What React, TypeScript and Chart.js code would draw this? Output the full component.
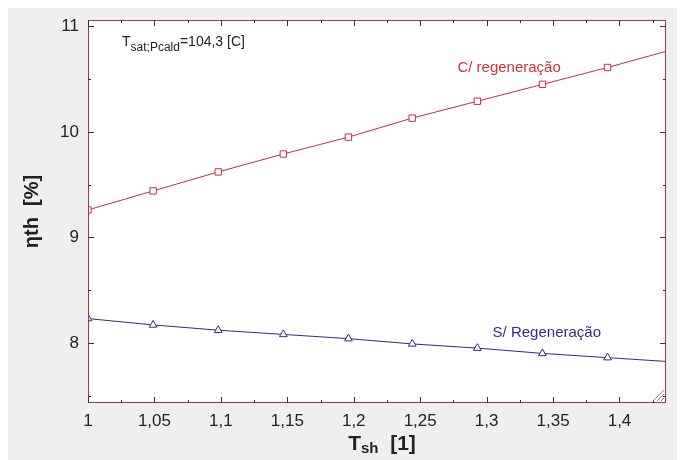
import React, { useEffect, useRef } from "react";
import { Chart, registerables } from "chart.js";

Chart.register(...registerables);

const xValues = [1, 1.049, 1.098, 1.147, 1.196, 1.244, 1.293, 1.342, 1.391, 1.44];
const withRegen = [9.26, 9.44, 9.62, 9.79, 9.95, 10.13, 10.29, 10.45, 10.61, 10.78];
const withoutRegen = [8.23, 8.17, 8.12, 8.08, 8.04, 7.99, 7.95, 7.9, 7.86, 7.82];

const xMajorTicks = [1, 1.05, 1.1, 1.15, 1.2, 1.25, 1.3, 1.35, 1.4];
const xMinorTicks = [1.025, 1.075, 1.125, 1.175, 1.225, 1.275, 1.325, 1.375, 1.425];
const yMajorTicks = [8, 9, 10, 11];
const yMinorTicks = [7.5, 8.5, 9.5, 10.5];

const X_MIN = 1;
const X_MAX = 1.435;
const Y_MIN = 7.43;
const Y_MAX = 11.06;

const RED = "#c0303f";
const RED_TEXT = "#d23040";
const BLUE = "#2e2e82";
const FRAME = "#9a3a4a";
const FONT = "'Liberation Sans', Arial, sans-serif";

const fmt = (v: number) => String(+v.toFixed(3)).replace(".", ",");

const decorPlugin = {
  id: "decor",
  afterDraw(chart: any) {
    const { ctx, chartArea: a, scales } = chart;
    const xs = scales.x;
    const ys = scales.y;
    ctx.save();
    // frame
    ctx.strokeStyle = FRAME;
    ctx.lineWidth = 1;
    ctx.strokeRect(a.left + 0.5, a.top + 0.5, a.right - a.left - 1, a.bottom - a.top - 1);
    // ticks inward
    ctx.strokeStyle = "#333";
    ctx.beginPath();
    const xt = (vals: number[], len: number) => {
      vals.forEach((v) => {
        const px = Math.round(xs.getPixelForValue(v)) + 0.5;
        ctx.moveTo(px, a.bottom);
        ctx.lineTo(px, a.bottom - len);
        ctx.moveTo(px, a.top);
        ctx.lineTo(px, a.top + len);
      });
    };
    const yt = (vals: number[], len: number) => {
      vals.forEach((v) => {
        const py = Math.round(ys.getPixelForValue(v)) + 0.5;
        ctx.moveTo(a.left, py);
        ctx.lineTo(a.left + len, py);
        ctx.moveTo(a.right, py);
        ctx.lineTo(a.right - len, py);
      });
    };
    xt(xMajorTicks, 6);
    xt(xMinorTicks, 3);
    yt(yMajorTicks, 6);
    yt(yMinorTicks, 3);
    ctx.stroke();

    // resize grip
    ctx.strokeStyle = "#888";
    ctx.beginPath();
    for (let i = 0; i < 3; i++) {
      const o = 3 + i * 4;
      ctx.moveTo(a.right - 2 - o, a.bottom - 2);
      ctx.lineTo(a.right - 2, a.bottom - 2 - o);
    }
    ctx.stroke();

    // annotations
    ctx.textBaseline = "alphabetic";
    ctx.textAlign = "left";
    ctx.fillStyle = "#222";
    let x0 = xs.getPixelForValue(1.0256);
    let y0 = ys.getPixelForValue(10.81);
    ctx.font = `14px ${FONT}`;
    ctx.fillText("T", x0, y0);
    let w = ctx.measureText("T").width;
    ctx.font = `12px ${FONT}`;
    ctx.fillText("sat;Pcald", x0 + w, y0 + 5);
    w += ctx.measureText("sat;Pcald").width;
    ctx.font = `14px ${FONT}`;
    ctx.fillText("=104,3 [C]", x0 + w, y0);

    ctx.font = `15px ${FONT}`;
    ctx.fillStyle = RED_TEXT;
    ctx.fillText("C/ regeneração", xs.getPixelForValue(1.278), ys.getPixelForValue(10.57));
    ctx.fillStyle = BLUE;
    ctx.fillText("S/ Regeneração", xs.getPixelForValue(1.3045), ys.getPixelForValue(8.057));

    // x title
    ctx.fillStyle = "#222";
    const cx = (a.left + a.right) / 2 + 5;
    const by = a.bottom + 47;
    ctx.font = `bold 21px ${FONT}`;
    const wT = ctx.measureText("T").width;
    ctx.font = `bold 15px ${FONT}`;
    const wS = ctx.measureText("sh").width;
    ctx.font = `bold 21px ${FONT}`;
    const wB = ctx.measureText("  [1]").width;
    let sx = cx - (wT + wS + wB) / 2;
    ctx.fillText("T", sx, by);
    ctx.font = `bold 15px ${FONT}`;
    ctx.fillText("sh", sx + wT, by + 3);
    ctx.font = `bold 21px ${FONT}`;
    ctx.fillText("  [1]", sx + wT + wS, by);

    // y title
    ctx.translate(a.left - 50, (a.top + a.bottom) / 2);
    ctx.rotate(-Math.PI / 2);
    ctx.textAlign = "center";
    ctx.font = `bold 20px ${FONT}`;
    ctx.fillText("ηth  [%]", 0, 0);
    ctx.restore();
  },
};

export default function App() {
  const ref = useRef<HTMLCanvasElement>(null);
  useEffect(() => {
    if (!ref.current) return;
    const chart = new Chart(ref.current, {
      type: "scatter",
      data: {
        datasets: [
          {
            label: "C/ regeneração",
            data: xValues.map((x, i) => ({ x, y: withRegen[i] })),
            showLine: true,
            borderColor: RED,
            borderWidth: 1,
            pointStyle: "rect",
            pointRadius: 4.5,
            pointBackgroundColor: "#ffffff",
            pointBorderColor: RED,
            pointBorderWidth: 1,
          },
          {
            label: "S/ Regeneração",
            data: xValues.map((x, i) => ({ x, y: withoutRegen[i] })),
            showLine: true,
            borderColor: BLUE,
            borderWidth: 1,
            pointStyle: "triangle",
            pointRadius: 4.5,
            pointBackgroundColor: "#ffffff",
            pointBorderColor: BLUE,
            pointBorderWidth: 1,
          },
        ],
      },
      options: {
        responsive: false,
        animation: false,
        layout: { padding: { top: 12, right: 19, left: 0, bottom: 0 } },
        plugins: {
          legend: { display: false },
          tooltip: { enabled: false },
          title: { display: false },
        },
        scales: {
          x: {
            type: "linear",
            min: X_MIN,
            max: X_MAX,
            afterFit: (s: any) => {
              s.height = 57;
              s.paddingLeft = 0;
              s.paddingRight = 0;
            },
            afterBuildTicks: (s: any) => {
              s.ticks = xMajorTicks.map((v) => ({ value: v }));
            },
            grid: { display: false, drawTicks: false },
            border: { display: false },
            ticks: {
              padding: 8,
              color: "#222",
              font: { family: FONT, size: 17 },
              callback: (v: any) => fmt(Number(v)),
              maxRotation: 0,
              autoSkip: false,
            },
          },
          y: {
            type: "linear",
            min: Y_MIN,
            max: Y_MAX,
            afterFit: (s: any) => {
              s.width = 80;
              s.paddingTop = 0;
              s.paddingBottom = 0;
            },
            afterBuildTicks: (s: any) => {
              s.ticks = yMajorTicks.map((v) => ({ value: v }));
            },
            grid: { display: false, drawTicks: false },
            border: { display: false },
            ticks: {
              padding: 9,
              color: "#222",
              font: { family: FONT, size: 17 },
              callback: (v: any) => fmt(Number(v)),
              autoSkip: false,
            },
          },
        },
      },
      plugins: [
        {
          id: "bg",
          beforeDraw(chart: any) {
            const { ctx, chartArea: a } = chart;
            ctx.save();
            ctx.fillStyle = "#ffffff";
            ctx.fillRect(a.left, a.top, a.right - a.left, a.bottom - a.top);
            ctx.restore();
          },
        },
        decorPlugin,
      ],
    } as any);
    return () => chart.destroy();
  }, []);
  return (
    <div style={{ width: 677, height: 452, background: "#efefef" }}>
      <canvas ref={ref} width={677} height={452} style={{ display: "block" }} />
    </div>
  );
}
